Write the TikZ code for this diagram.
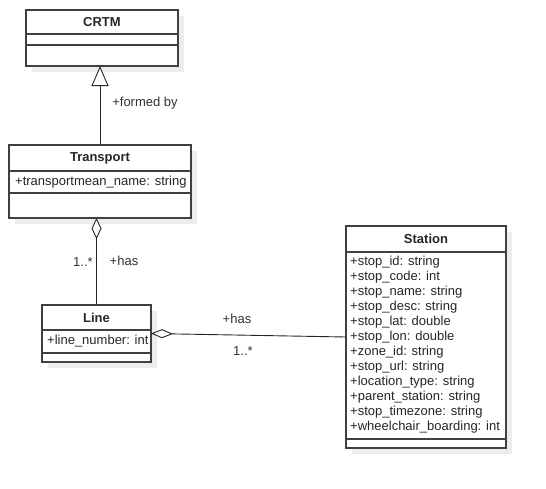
\documentclass[tikz,border=0pt]{standalone}
\usepackage{fontspec}
\setmainfont{Liberation Sans}
\usetikzlibrary{arrows.meta}
\begin{document}
\begin{tikzpicture}[x=1pt,y=-1pt,
  font=\fontsize{13}{15}\selectfont,
  box/.style={draw=black!75, line width=1.2pt, fill=white, anchor=north west, inner sep=0pt, outer sep=0pt},
  shade/.style={fill=black!7, draw=none},
  title/.style={font=\fontsize{13}{15}\selectfont\bfseries, text=black!85, inner sep=0pt},
  attr/.style={anchor=west, text=black!85, inner sep=0pt},
  lbl/.style={text=black!80, inner sep=0pt},
  conn/.style={draw=black!85, line width=0.9pt},
  div/.style={draw=black!75, line width=1.2pt}]
\useasboundingbox (0,0) rectangle (546,488);
\fill[white] (0,0) rectangle (546,488);
% shadows
\fill[shade] (32,16) rectangle (184,72);
\fill[shade] (15,151) rectangle (197,224);
\fill[shade] (48,311) rectangle (157,368);
\fill[shade] (352,232) rectangle (512,454);
% boxes
\node[box, minimum width=152pt, minimum height=56pt] (crtm) at (26,10) {};
\node[box, minimum width=182pt, minimum height=73pt] (transport) at (9,145) {};
\node[box, minimum width=109pt, minimum height=57pt] (line) at (42,305) {};
\node[box, minimum width=160pt, minimum height=222pt] (station) at (346,226) {};
% dividers
\draw[div] (crtm.west |- 0,34) -- (crtm.east |- 0,34);
\draw[div] (crtm.west |- 0,45) -- (crtm.east |- 0,45);
\draw[div] (transport.west |- 0,171) -- (transport.east |- 0,171);
\draw[div] (transport.west |- 0,193) -- (transport.east |- 0,193);
\draw[div] (line.west |- 0,330) -- (line.east |- 0,330);
\draw[div] (line.west |- 0,353) -- (line.east |- 0,353);
\draw[div] (station.west |- 0,252) -- (station.east |- 0,252);
\draw[div] (station.west |- 0,439) -- (station.east |- 0,439);
% titles
\node[title] (crtmT) at (102,22) {CRTM};
\node[title] (transportT) at (100,158) {Transport};
\node[title] (lineT) at (96.5,318) {Line};
\node[title] (stationT) at (426,239) {Station};
% attributes
\node[attr] (ta1) at (15,182) {+transportmean\_name: string};
\node[attr] (la1) at (47,341) {+line\_number: int};
\foreach \t [count=\i from 0] in {+stop\_id: string, +stop\_code: int, +stop\_name: string, +stop\_desc: string, +stop\_lat: double, +stop\_lon: double, +zone\_id: string, +stop\_url: string, +location\_type: string, +parent\_station: string, +stop\_timezone: string, +wheelchair\_boarding: int}
  \node[attr] (sa\i) at (350,262+15*\i) {\t};
% connectors
\draw[conn, -{Triangle[open, length=20pt, width=17pt, fill=white]}] (transport.north) -- (transport.north |- crtm.south);
\draw[conn, -{Diamond[open, length=21pt, width=10pt, fill=white]}] (line.north) -- (line.north |- transport.south);
\draw[conn, -{Diamond[open, length=22pt, width=9pt, fill=white]}] (station.west) -- (line.east);
% labels
\node[lbl] (l1) at (145,103) {+formed by};
\node[lbl] (l2) at (83,262) {1..*};
\node[lbl] (l3) at (124,261) {+has};
\node[lbl] (l4) at (237,319) {+has};
\node[lbl] (l5) at (243,351) {1..*};
\end{tikzpicture}
\end{document}
